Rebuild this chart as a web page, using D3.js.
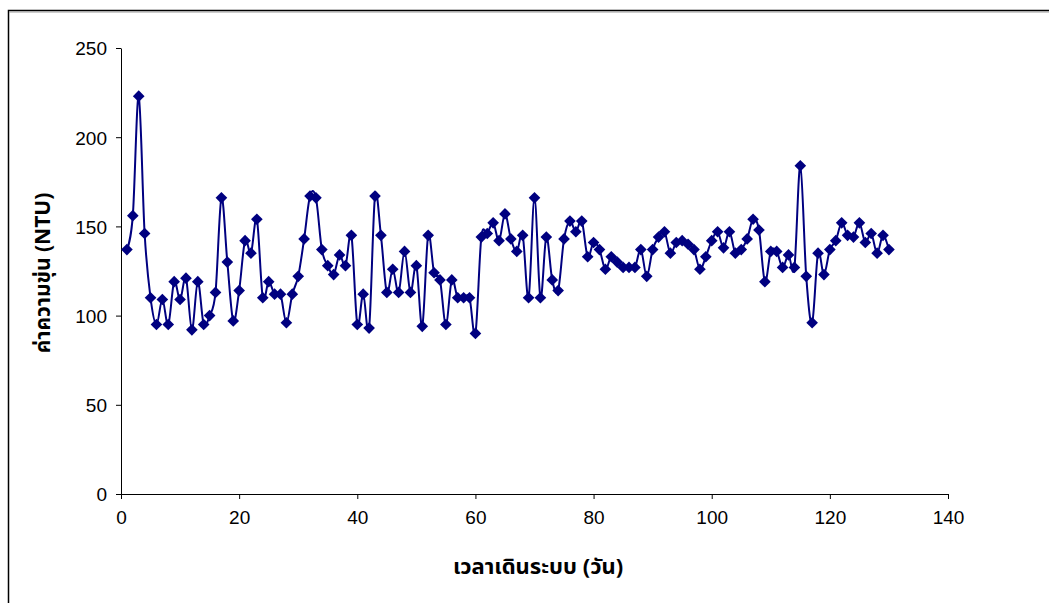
<!DOCTYPE html>
<html>
<head>
<meta charset="utf-8">
<script src="https://cdn.jsdelivr.net/npm/d3@7"></script>
<style>
  body { margin: 0; background: #fff; }
  text { font-family: "Liberation Sans", Arial, sans-serif; }
</style>
</head>
<body>
<script>
// turbidity (NTU) per day of operation
const turbidity = [
  137, 156, 223, 146, 110, 95, 109, 95, 119, 109,
  121, 92, 119, 95, 100, 113, 166, 130, 97, 114,
  142, 135, 154, 110, 119, 112, 112, 96, 112, 122,
  143, 167, 166, 137, 128, 123, 134, 128, 145, 95,
  112, 93, 167, 145, 113, 126, 113, 136, 113, 128,
  94, 145, 124, 120, 95, 120, 110, 110, 110, 90,
  144, 146, 152, 142, 157, 143, 136, 145, 110, 166,
  110, 144, 120, 114, 143, 153, 147, 153, 133, 141,
  137, 126, 133, 130, 127, 127, 127, 137, 122, 137,
  144, 147, 135, 141, 142, 140, 137, 126, 133, 142,
  147, 138, 147, 135, 137, 143, 154, 148, 119, 136,
  136, 127, 134, 127, 184, 122, 96, 135, 123, 137,
  142, 152, 145, 144, 152, 141, 146, 135, 145, 137
];
const days = turbidity.map((_, i) => i + 1);
const xTicks = [0, 20, 40, 60, 80, 100, 120, 140];
const yTicks = [0, 50, 100, 150, 200, 250];

const xLabel = "เวลาเดินระบบ (วัน)";
const yLabel = "ค่าความขุ่น (NTU)";

const width = 1049, height = 603;
const margin = {left: 121, right: 100, top: 48, bottom: 109};

const svg = d3.select("body").append("svg")
    .attr("width", width)
    .attr("height", height);

// outer frame (runs off the right and bottom of the shot)
svg.append("path")
    .attr("d", `M8.5,${height + 2} V10.5 H${width + 2}`)
    .attr("fill", "none")
    .attr("stroke", "#000")
    .attr("stroke-width", 1.5);
svg.append("line")
    .attr("x1", 9).attr("x2", width)
    .attr("y1", 12).attr("y2", 12)
    .attr("stroke", "#999");

const x = d3.scaleLinear().domain([0, 140]).range([margin.left, width - margin.right - 1]);
const y = d3.scaleLinear().domain([0, 250]).range([height - margin.bottom, margin.top]);

const xAxis = svg.append("g")
    .attr("transform", `translate(0,${y(0)})`)
    .call(d3.axisBottom(x).tickValues(xTicks).tickSize(5).tickPadding(12).tickSizeOuter(0));
const yAxis = svg.append("g")
    .attr("transform", `translate(${x(0)},0)`)
    .call(d3.axisLeft(y).tickValues(yTicks).tickSize(5).tickPadding(9).tickSizeOuter(0));

[xAxis, yAxis].forEach(g => {
    g.selectAll("text").style("font-size", "19px").attr("fill", "#000")
        .style("font-family", "'Liberation Sans', Arial, sans-serif");
    g.selectAll("line, path").attr("stroke", "#000");
});
yAxis.selectAll("text").attr("dy", "0.36em");

const line = d3.line()
    .x((d, i) => x(days[i]))
    .y(d => y(d))
    .curve(d3.curveCardinal.tension(0));

svg.append("path")
    .datum(turbidity)
    .attr("d", line)
    .attr("fill", "none")
    .attr("stroke", "#000080")
    .attr("stroke-width", 2);

const diamond = d3.symbol().type(d3.symbolSquare).size(68);
svg.append("g").selectAll("path")
    .data(turbidity)
    .enter()
    .append("path")
    .attr("d", diamond)
    .attr("transform", (d, i) => `translate(${x(days[i])},${y(d)})rotate(45)`)
    .attr("fill", "#000080");

svg.append("text")
    .attr("x", 538)
    .attr("y", 574)
    .attr("text-anchor", "middle")
    .style("font-family", "Tahoma, 'Noto Sans Thai', 'Noto Sans', 'DejaVu Sans', sans-serif")
    .style("font-weight", "bold")
    .style("font-size", "22px")
    .text(xLabel);

svg.append("text")
    .attr("transform", `translate(50,273)rotate(-90)`)
    .attr("text-anchor", "middle")
    .style("font-family", "Tahoma, 'Noto Sans Thai', 'Noto Sans', 'DejaVu Sans', sans-serif")
    .style("font-weight", "bold")
    .style("font-size", "21px")
    .text(yLabel);
</script>
</body>
</html>
